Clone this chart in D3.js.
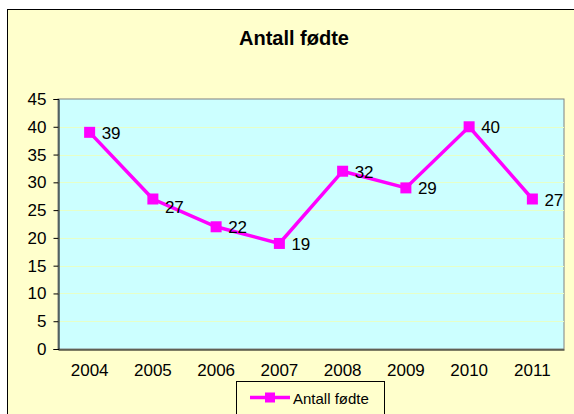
<!DOCTYPE html>
<html><head><meta charset="utf-8">
<script src="https://d3js.org/d3.v7.min.js"></script>
<style>body{margin:0;background:#fff}svg{display:block}</style>
</head><body>
<script>
const years = ["2004","2005","2006","2007","2008","2009","2010","2011"];
const births = [39,27,22,19,32,29,40,27];
const yTicks = [0,5,10,15,20,25,30,35,40,45];
const title = "Antall fødte";
const seriesName = "Antall fødte";

const W=574,H=414;
const svg=d3.select("body").append("svg").attr("width",W).attr("height",H);
const font="Arial, 'Liberation Sans', sans-serif";
svg.append("rect").attr("x",7.5).attr("y",9.5).attr("width",W).attr("height",H)
  .attr("fill","#ffffcc").attr("stroke","#000").attr("stroke-width",1);

const m={l:58,r:564,t:99,b:349};
const x=d3.scaleBand().domain(years).range([m.l,m.r]);
const y=d3.scaleLinear().domain([0,45]).range([m.b,m.t]);

svg.append("rect").attr("x",m.l).attr("y",m.t).attr("width",m.r-m.l).attr("height",m.b-m.t)
  .attr("fill","#ccffff").attr("stroke","#808080").attr("stroke-width",1);

svg.append("g").selectAll("line").data(yTicks.filter(d=>d>0&&d<45)).join("line")
  .attr("x1",m.l).attr("x2",m.r).attr("y1",d=>Math.round(y(d))+0.5).attr("y2",d=>Math.round(y(d))+0.5)
  .attr("stroke","#e6ffc8").attr("stroke-width",1);

const ya=svg.append("g").attr("transform",`translate(${m.l+0.5},0)`)
  .call(d3.axisLeft(y).tickValues(yTicks).tickSize(5).tickPadding(7));
ya.select(".domain").attr("stroke","#000");
ya.selectAll("text").attr("font-family",font).attr("font-size",17).attr("fill","#000");

const xa=svg.append("g").attr("transform",`translate(0,${m.b+0.5})`)
  .call(d3.axisBottom(x).tickSize(0).tickPadding(14));
xa.select(".domain").attr("stroke","#000");
xa.selectAll("text").attr("font-family",font).attr("font-size",17).attr("fill","#000");

svg.append("text").attr("x",294).attr("y",45).attr("text-anchor","middle")
  .attr("font-family",font).attr("font-size",20).attr("font-weight","bold").text(title);

const cx=d=>x(d)+x.bandwidth()/2;
const data=years.map((yr,i)=>({yr,v:births[i],i}));
svg.append("path").datum(data)
  .attr("d",d3.line().x(d=>cx(d.yr)).y(d=>y(d.v)))
  .attr("fill","none").attr("stroke","#ff00ff").attr("stroke-width",3.5);
svg.append("g").selectAll("rect").data(data).join("rect")
  .attr("x",d=>cx(d.yr)-5.5).attr("y",d=>y(d.v)-5.5).attr("width",11).attr("height",11).attr("fill","#ff00ff");
svg.append("g").selectAll("text").data(data).join("text")
  .attr("x",d=>cx(d.yr)+12).attr("y",d=>y(d.v)+6.5+(d.i===1?7:0))
  .attr("font-family",font).attr("font-size",17).attr("fill","#000").text(d=>d.v);

// legend
const lg=svg.append("g");
lg.append("rect").attr("x",236.5).attr("y",381.5).attr("width",148).attr("height",60)
  .attr("fill","#ffffcc").attr("stroke","#000");
lg.append("line").attr("x1",250).attr("x2",290).attr("y1",397.5).attr("y2",397.5)
  .attr("stroke","#ff00ff").attr("stroke-width",3.5);
lg.append("rect").attr("x",265).attr("y",392.5).attr("width",10).attr("height",10).attr("fill","#ff00ff");
lg.append("text").attr("x",293).attr("y",403.5).attr("font-family",font).attr("font-size",15)
  .attr("fill","#000").text(seriesName);
</script>
</body></html>
